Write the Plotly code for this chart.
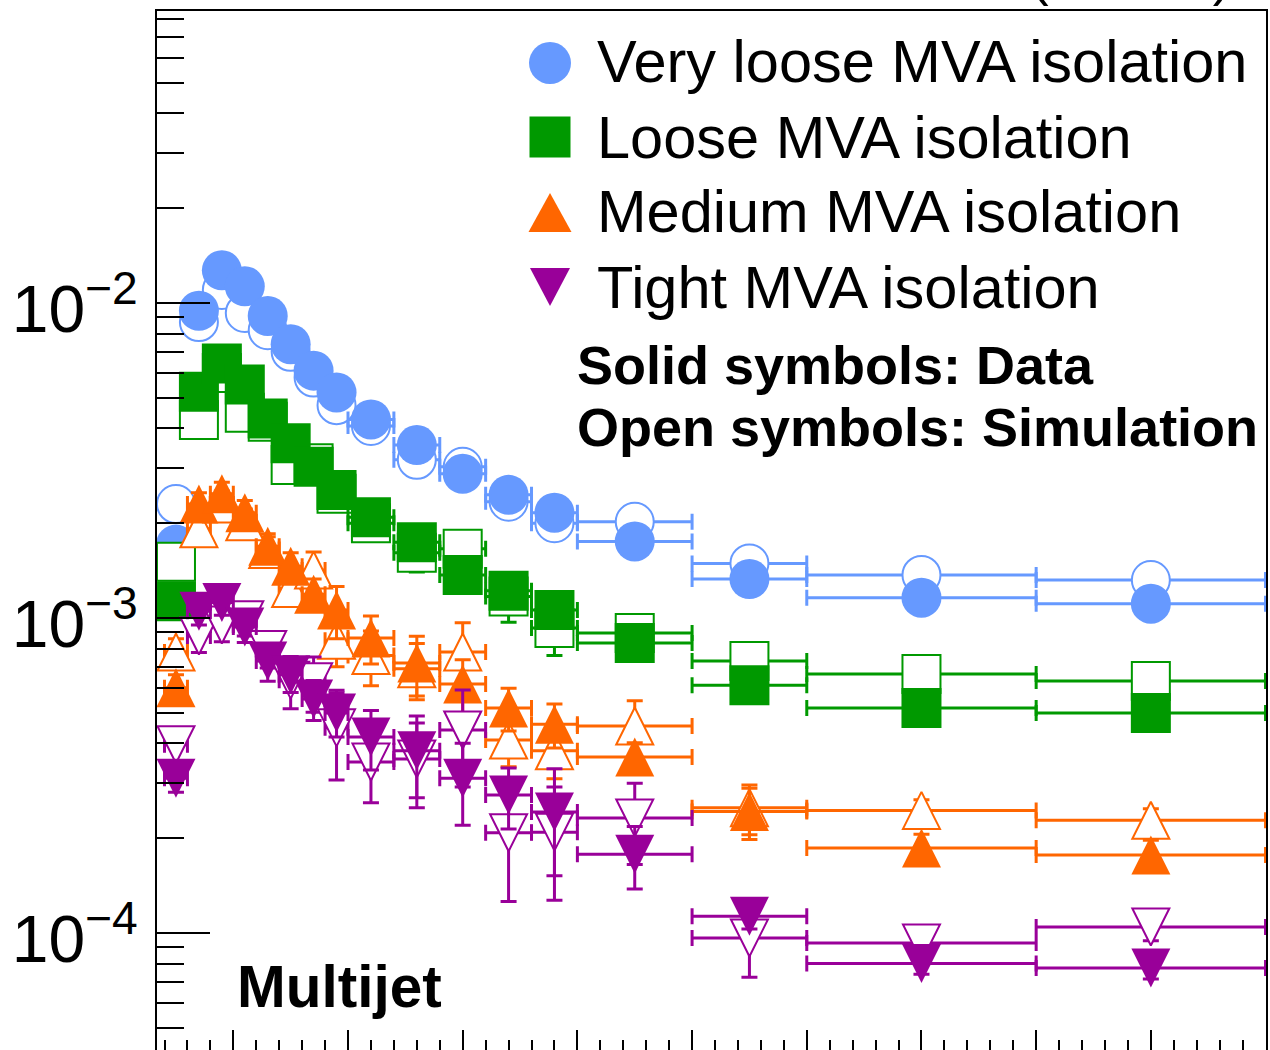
import plotly.graph_objects as go

# ---------------- data ----------------
bin_lo = [20, 25, 30, 35, 40, 45, 50, 55, 60, 70, 80, 90, 100, 110, 135, 160, 210]
bin_hi = [25, 30, 35, 40, 45, 50, 55, 60, 70, 80, 90, 100, 110, 135, 160, 210, 260]

vl_data = [1.71e-3, 9.45e-3, 1.27e-2, 1.13e-2, 9.1e-3, 7.4e-3, 6.1e-3, 5.2e-3, 4.27e-3,
           3.54e-3, 2.87e-3, 2.46e-3, 2.16e-3, 1.75e-3, 1.33e-3, 1.16e-3, 1.11e-3]
vl_data_err = [4e-5, 1.5e-4, 1.5e-4, 1.3e-4, 1e-4, 8e-5, 7e-5, 6e-5, 5e-5,
               4e-5, 4e-5, 3e-5, 3e-5, 3e-5, 3e-5, 2e-5, 2e-5]
vl_sim = [2.30e-3, 8.7e-3, 1.10e-2, 9.3e-3, 8.2e-3, 7.0e-3, 5.8e-3, 4.74e-3, 4.07e-3,
          3.18e-3, 3.02e-3, 2.34e-3, 2.0e-3, 2.02e-3, 1.49e-3, 1.37e-3, 1.32e-3]
vl_sim_err = [8e-5, 3e-4, 3e-4, 2.5e-4, 2e-4, 1.8e-4, 1.5e-4, 1.3e-4, 1.2e-4,
              1e-4, 1e-4, 8e-5, 8e-5, 7e-5, 5e-5, 4e-5, 4e-5]

lo_data = [1.13e-3, 5.23e-3, 6.43e-3, 5.51e-3, 4.30e-3, 3.59e-3, 3.02e-3, 2.55e-3, 2.09e-3,
           1.74e-3, 1.37e-3, 1.22e-3, 1.06e-3, 8.33e-4, 6.12e-4, 5.18e-4, 4.99e-4]
lo_data_err = [4e-5, 1.5e-4, 1.5e-4, 1.3e-4, 1e-4, 9e-5, 8e-5, 7e-5, 6e-5,
               5e-5, 4e-5, 4e-5, 4e-5, 3e-5, 3e-5, 2e-5, 2e-5]
lo_sim = [1.51e-3, 4.25e-3, 6.0e-3, 4.48e-3, 4.2e-3, 3.06e-3, 3.1e-3, 2.48e-3, 2.0e-3,
          1.61e-3, 1.66e-3, 1.17e-3, 9.3e-4, 8.96e-4, 7.3e-4, 6.64e-4, 6.31e-4]
lo_sim_err = [8e-5, 2.5e-4, 3.5e-4, 2.5e-4, 2.5e-4, 2e-4, 2.2e-4, 2.0e-4, 1.8e-4,
              2.1e-4, 1.8e-4, 2.0e-4, 1.7e-4, 8e-5, 6e-5, 4e-5, 4e-5]

me_data = [6.01e-4, 2.30e-3, 2.48e-3, 2.16e-3, 1.69e-3, 1.46e-3, 1.19e-3, 1.06e-3, 8.64e-4,
           7.2e-4, 6.17e-4, 5.18e-4, 4.6e-4, 3.62e-4, 2.43e-4, 1.86e-4, 1.77e-4]
me_data_err = [6e-5, 2e-4, 2.2e-4, 2e-4, 1.6e-4, 1.5e-4, 1.4e-4, 2e-4, 1.5e-4,
               1.55e-4, 1.2e-4, 8e-5, 7.3e-5, 4e-5, 4.5e-5, 2e-5, 2e-5]
me_sim = [7.8e-4, 1.92e-3, 2.3e-3, 2.02e-3, 1.65e-3, 1.24e-3, 1.42e-3, 8.5e-4, 7.6e-4,
          6.9e-4, 7.8e-4, 4.1e-4, 3.79e-4, 4.54e-4, 2.5e-4, 2.45e-4, 2.28e-4]
me_sim_err = [8e-5, 2e-4, 2.3e-4, 2e-4, 1.6e-4, 1.5e-4, 2e-4, 1.5e-4, 1.5e-4,
              1.4e-4, 1.86e-4, 7.3e-5, 7e-5, 9.2e-5, 4.5e-5, 2e-5, 2e-5]

ti_data = [3.1e-4, 1.05e-3, 1.12e-3, 9.36e-4, 7.3e-4, 6.6e-4, 5.53e-4, 4.99e-4, 4.19e-4,
           3.79e-4, 3.1e-4, 2.74e-4, 2.42e-4, 1.78e-4, 1.13e-4, 8.0e-5, 7.75e-5]
ti_data_err = [3e-5, 1e-4, 1e-4, 1e-4, 1e-4, 8e-5, 8e-5, 8e-5, 9e-5,
               1.1e-4, 9e-5, 6e-5, 9e-5, 4e-5, 1e-5, 6e-6, 6e-6]
ti_sim = [3.96e-4, 8.77e-4, 9.5e-4, 9.87e-4, 7.94e-4, 6.35e-4, 6.27e-4, 4.48e-4, 3.49e-4,
          3.57e-4, 4.41e-4, 2.08e-4, 2.09e-4, 2.32e-4, 9.64e-5, 9.3e-5, 1.045e-4]
ti_sim_err = [5e-5, 1e-4, 1.1e-4, 1.1e-4, 1e-4, 1.2e-4, 1.25e-4, 1.42e-4, 9e-5,
              1.07e-4, 1.5e-4, 8.2e-5, 8.2e-5, 6.7e-5, 2.4e-5, 9e-6, 1e-5]

labels = ["Very loose MVA isolation", "Loose MVA isolation",
          "Medium MVA isolation", "Tight MVA isolation"]
colors = ["#6699ff", "#009900", "#ff6600", "#990099"]

y_tick_vals = [1e-4, 1e-3, 1e-2]
y_tick_text = ["10<sup>\u22124</sup>", "10<sup>\u22123</sup>", "10<sup>\u22122</sup>"]

# ---------------- layout geometry ----------------
W, H = 1270, 1050
ML, MR, MT, MB = 157, 4, 11, 0
PW, PH = W - ML - MR, H - MT - MB


def px(x):
    return (x - ML) / PW


def py(y):
    return (H - MB - y) / PH


FONT = "Liberation Sans, Arial, Helvetica, sans-serif"

x_center = [(a + b) / 2 for a, b in zip(bin_lo, bin_hi)]
x_half = [(b - a) / 2 for a, b in zip(bin_lo, bin_hi)]

series = [
    (labels[0], colors[0], "circle", vl_data, vl_data_err, vl_sim, vl_sim_err),
    (labels[1], colors[1], "square", lo_data, lo_data_err, lo_sim, lo_sim_err),
    (labels[2], colors[2], "tri_up", me_data, me_data_err, me_sim, me_sim_err),
    (labels[3], colors[3], "tri_down", ti_data, ti_data_err, ti_sim, ti_sim_err),
]


def marker_spec(kind, color, filled):
    size = 40 if filled else 38
    if kind in ("tri_up", "tri_down"):
        size = 39 if filled else 37
    m = dict(size=size)
    if kind == "circle":
        m["symbol"] = "circle"
    elif kind == "square":
        m["symbol"] = "square"
    elif kind == "tri_up":
        m.update(symbol="arrow-down", angle=180, standoff=size / 2)
    else:
        m.update(symbol="arrow-down", angle=0, standoff=size / 2)
    if filled:
        m["color"] = color
        m["line"] = dict(width=0, color=color)
    else:
        m["color"] = "white"
        m["line"] = dict(width=2, color=color)
    return m


fig = go.Figure()
for name, color, kind, d, de, s, se in series:
    for vals, errs, filled, tag in ((s, se, False, "Simulation"), (d, de, True, "Data")):
        fig.add_trace(go.Scatter(
            x=x_center, y=vals, mode="markers", name=f"{name} ({tag})",
            showlegend=False,
            marker=marker_spec(kind, color, filled),
            error_x=dict(type="data", array=x_half, visible=True, color=color,
                         thickness=3, width=8),
            error_y=dict(type="data", array=errs, visible=True, color=color,
                         thickness=3, width=8),
            cliponaxis=True,
        ))

# ---------------- legend (drawn manually as in the ROOT figure) ----------------
shapes = []
leg_y = [63, 137, 212.5, 287]
common = dict(xref="paper", yref="paper", xsizemode="pixel", ysizemode="pixel",
              xanchor=px(550), line=dict(width=0))
shapes.append(dict(type="circle", yanchor=py(leg_y[0]), x0=-21, x1=21, y0=-21, y1=21,
                   fillcolor=colors[0], **common))
shapes.append(dict(type="rect", yanchor=py(leg_y[1]), x0=-20.5, x1=20.5, y0=-20.5, y1=20.5,
                   fillcolor=colors[1], **common))
shapes.append(dict(type="path", yanchor=py(leg_y[2]), path="M -21.5,-19.5 L 21.5,-19.5 L 0,19.5 Z",
                   fillcolor=colors[2], **common))
shapes.append(dict(type="path", yanchor=py(leg_y[3]), path="M -20,19 L 20,19 L 0,-19 Z",
                   fillcolor=colors[3], **common))

annotations = []
for lab, yy in zip(labels, [61, 137, 212, 287]):
    annotations.append(dict(text=lab, xref="paper", yref="paper", x=px(595), y=py(yy),
                            xanchor="left", yanchor="middle", showarrow=False,
                            font=dict(family=FONT, size=59.5, color="black")))
annotations.append(dict(text="<b>Solid symbols: Data</b>", xref="paper", yref="paper",
                        x=px(575), y=py(365), xanchor="left", yanchor="middle", showarrow=False,
                        font=dict(family=FONT, size=54, color="black")))
annotations.append(dict(text="<b>Open symbols: Simulation</b>", xref="paper", yref="paper",
                        x=px(575), y=py(427), xanchor="left", yanchor="middle", showarrow=False,
                        font=dict(family=FONT, size=54, color="black")))
annotations.append(dict(text="<b>Multijet</b>", xref="paper", yref="paper",
                        x=px(235), y=py(986), xanchor="left", yanchor="middle", showarrow=False,
                        font=dict(family=FONT, size=58.5, color="black")))
annotations.append(dict(text="(13 TeV)", xref="paper", yref="paper",
                        x=px(1232), y=py(-24), xanchor="right", yanchor="middle", showarrow=False,
                        font=dict(family=FONT, size=53, color="black")))

minor_y = [k * 10.0 ** e for e in (-5, -4, -3, -2) for k in range(2, 10)]

fig.update_layout(
    width=W, height=H,
    margin=dict(l=ML, r=MR, t=MT, b=MB, pad=0),
    paper_bgcolor="white", plot_bgcolor="white",
    shapes=shapes, annotations=annotations,
    showlegend=False,
    xaxis=dict(
        range=[18.365, 260.1], showgrid=False, zeroline=False,
        showline=True, linecolor="black", linewidth=2, mirror=True,
        tickmode="linear", tick0=10, dtick=25, ticks="inside", ticklen=20,
        tickwidth=2, tickcolor="black", showticklabels=False,
        minor=dict(tick0=10, dtick=5, ticks="inside", ticklen=10, tickwidth=2,
                   tickcolor="black", showgrid=False),
    ),
    yaxis=dict(
        type="log", range=[-4.3714, -1.0730], showgrid=False, zeroline=False,
        showline=True, linecolor="black", linewidth=2, mirror=True,
        tickmode="array", tickvals=y_tick_vals, ticktext=y_tick_text,
        ticks="inside", ticklen=53, tickwidth=2, tickcolor="black",
        tickfont=dict(family=FONT, size=66, color="black"),
        ticklabelstandoff=4, ticklabelshift=6,
        minor=dict(tickmode="array", tickvals=minor_y, ticks="inside", ticklen=27,
                   tickwidth=2, tickcolor="black", showgrid=False),
    ),
)

fig.write_html(
    "out.html",
    config={"displayModeBar": False},
    post_script="document.body.style.margin='0';document.body.style.overflow='hidden';",
)
